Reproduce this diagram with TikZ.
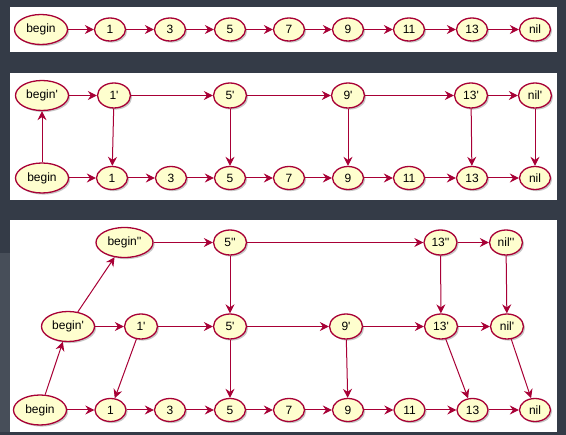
\documentclass[tikz,border=0pt]{standalone}
\usepackage{fontspec}
\setmainfont{Liberation Sans}[Ligatures=TeXOff]
\usetikzlibrary{shapes.geometric,arrows.meta,shadows}
\definecolor{bgdark}{HTML}{343B47}
\definecolor{bgstrip}{HTML}{474E59}
\definecolor{nodefill}{HTML}{FEFECE}
\definecolor{nodeline}{HTML}{A80036}
\tikzset{
  base/.style={ellipse, draw=nodeline, fill=nodefill, line width=1.3pt, inner sep=0pt,
    font=\fontsize{12}{14}\selectfont,
    drop shadow={shadow xshift=1.6pt, shadow yshift=-1.6pt, opacity=0.22, fill=black}},
  num/.style={base, minimum width=31pt, minimum height=23pt},
  prm/.style={base, minimum width=33pt, minimum height=25pt},
  head/.style={base, minimum width=53pt, minimum height=30pt},
  link/.style={draw=nodeline, line width=1pt,
    -{Stealth[length=9pt, width=9pt, inset=3pt]}},
  panel/.style={fill=white, draw=none}
}
\begin{document}
\begin{tikzpicture}[x=1pt, y=-1pt]
  % canvas and the three white panels
  \fill[bgdark] (0,0) rectangle (566,435);
  \useasboundingbox (0,0) rectangle (566,435);
  \fill[bgstrip] (0,253) rectangle (10,432);
  \fill[panel] (10,7) rectangle (557,52);
  \fill[panel] (10,73) rectangle (557,200);
  \fill[panel] (10,220) rectangle (557,432);

  % ---- plain list ----
  \node[head] (a0) at (41,29.5) {begin};
  \node[num] (a1) at (110,29.5) {1};
  \node[num] (a3) at (170,29.5) {3};
  \node[num] (a5) at (230,29.5) {5};
  \node[num] (a7) at (289,29.5) {7};
  \node[num] (a9) at (348,29.5) {9};
  \node[num] (a11) at (409,29.5) {11};
  \node[num] (a13) at (472,29.5) {13};
  \node[num] (anil) at (535,29.5) {nil};
  \foreach \s/\t in {a0/a1,a1/a3,a3/a5,a5/a7,a7/a9,a9/a11,a11/a13,a13/anil}
    \draw[link] (\s) -- (\t);

  % ---- two levels ----
  \node[head] (bt0) at (42,95.5) {begin'};
  \node[prm] (bt1) at (114,95.5) {1'};
  \node[prm] (bt5) at (230,95.5) {5'};
  \node[prm] (bt9) at (348,95.5) {9'};
  \node[prm] (bt13) at (471,95.5) {13'};
  \node[prm] (btnil) at (535,95.5) {nil'};
  \node[head] (b0) at (42,178) {begin};
  \node[num] (b1) at (112,178) {1};
  \node[num] (b3) at (171,178) {3};
  \node[num] (b5) at (230,178) {5};
  \node[num] (b7) at (289,178) {7};
  \node[num] (b9) at (348,178) {9};
  \node[num] (b11) at (409,178) {11};
  \node[num] (b13) at (472,178) {13};
  \node[num] (bnil) at (535,178) {nil};
  \foreach \s/\t in {b0/b1,b1/b3,b3/b5,b5/b7,b7/b9,b9/b11,b11/b13,b13/bnil,
                     bt0/bt1,bt1/bt5,bt5/bt9,bt9/bt13,bt13/btnil,
                     b0/bt0,bt1/b1,bt5/b5,bt9/b9,bt13/b13,btnil/bnil}
    \draw[link] (\s) -- (\t);

  % ---- three levels ----
  \node[head, minimum width=57pt] (ct0) at (124.5,242.5) {begin''};
  \node[prm] (ct5) at (230,242.5) {5''};
  \node[prm] (ct13) at (440.5,242.5) {13''};
  \node[prm] (ctnil) at (506,242.5) {nil''};
  \node[head] (cm0) at (68,326.5) {begin'};
  \node[prm] (cm1) at (141,326.5) {1'};
  \node[prm] (cm5) at (230,326.5) {5'};
  \node[prm] (cm9) at (346,326.5) {9'};
  \node[prm] (cm13) at (441,326.5) {13'};
  \node[prm] (cmnil) at (507,326.5) {nil'};
  \node[head] (c0) at (40,410) {begin};
  \node[num] (c1) at (110.5,410) {1};
  \node[num] (c3) at (170,410) {3};
  \node[num] (c5) at (230,410) {5};
  \node[num] (c7) at (289,410) {7};
  \node[num] (c9) at (348,410) {9};
  \node[num] (c11) at (409.5,410) {11};
  \node[num] (c13) at (472.5,410) {13};
  \node[num] (cnil) at (535,410) {nil};
  \foreach \s/\t in {c0/c1,c1/c3,c3/c5,c5/c7,c7/c9,c9/c11,c11/c13,c13/cnil,
                     cm0/cm1,cm1/cm5,cm5/cm9,cm9/cm13,cm13/cmnil,
                     ct0/ct5,ct5/ct13,ct13/ctnil,
                     c0/cm0,cm0/ct0,
                     ct5/cm5,ct13/cm13,ctnil/cmnil,
                     cm1/c1,cm5/c5,cm9/c9,cm13/c13,cmnil/cnil}
    \draw[link] (\s) -- (\t);
\end{tikzpicture}
\end{document}
